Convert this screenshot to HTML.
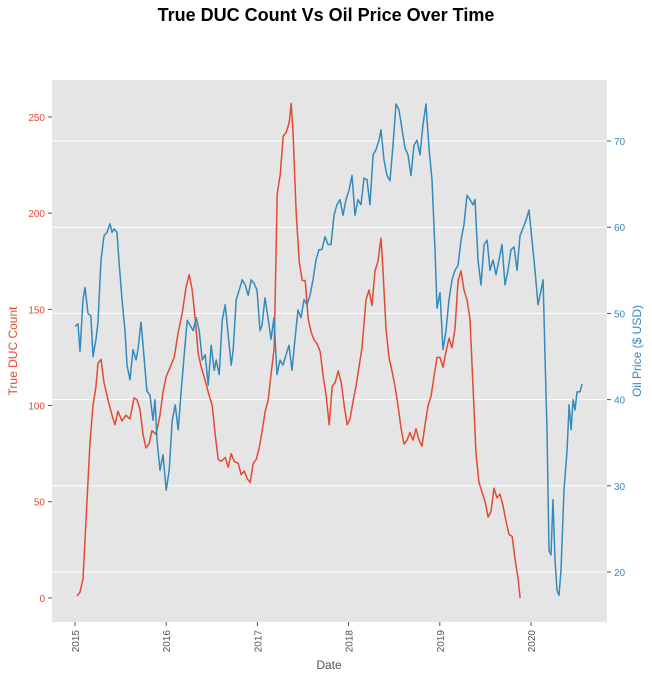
<!DOCTYPE html>
<html><head><meta charset="utf-8"><style>
body{margin:0;background:#fff;}
svg{display:block;font-family:"Liberation Sans",sans-serif;}
</style></head><body>
<svg id="c" width="652" height="679"></svg>
<script>
const ducDates=[2015.022,2015.055,2015.088,2015.121,2015.164,2015.197,2015.230,2015.252,2015.285,2015.318,2015.362,2015.406,2015.439,2015.471,2015.515,2015.559,2015.603,2015.647,2015.680,2015.713,2015.746,2015.779,2015.811,2015.844,2015.888,2015.932,2015.965,2016.0,2016.044,2016.088,2016.132,2016.175,2016.219,2016.252,2016.285,2016.318,2016.351,2016.384,2016.428,2016.461,2016.504,2016.537,2016.570,2016.603,2016.647,2016.680,2016.713,2016.746,2016.789,2016.822,2016.855,2016.888,2016.921,2016.954,2016.987,2017.020,2017.053,2017.086,2017.118,2017.151,2017.184,2017.217,2017.250,2017.283,2017.316,2017.349,2017.371,2017.393,2017.425,2017.458,2017.491,2017.524,2017.557,2017.590,2017.623,2017.656,2017.689,2017.721,2017.754,2017.787,2017.820,2017.853,2017.886,2017.919,2017.952,2017.985,2018.015,2018.048,2018.081,2018.114,2018.147,2018.191,2018.224,2018.257,2018.289,2018.322,2018.355,2018.377,2018.410,2018.443,2018.476,2018.509,2018.542,2018.575,2018.607,2018.640,2018.673,2018.706,2018.739,2018.772,2018.805,2018.838,2018.871,2018.904,2018.936,2018.969,2019.002,2019.035,2019.068,2019.101,2019.134,2019.167,2019.200,2019.232,2019.265,2019.298,2019.331,2019.364,2019.397,2019.430,2019.463,2019.496,2019.529,2019.561,2019.594,2019.627,2019.660,2019.693,2019.726,2019.759,2019.792,2019.825,2019.858,2019.880];
const ducValues=[1,3,10,40,80,100,110,122,124,112,103,95,90,97,92,95,93,104,103,98,85,78,80,87,85,95,107,115,120,125,138,148,162,168,160,145,127,120,113,107,100,85,72,71,73,68,75,71,70,64,66,62,60,70,72,78,87,97,103,117,130,210,220,240,242,247,257,240,200,175,165,165,145,138,134,132,128,115,105,90,110,112,118,112,100,90,93,102,110,120,130,155,160,152,170,175,187,170,140,125,118,110,100,88,80,82,86,82,88,82,79,90,100,105,115,125,125,120,128,135,130,140,165,170,160,155,145,110,75,60,55,50,42,45,57,52,54,48,40,33,32,20,10,0];
const oilDates=[2015.000,2015.033,2015.055,2015.088,2015.110,2015.143,2015.175,2015.197,2015.230,2015.252,2015.285,2015.318,2015.351,2015.384,2015.406,2015.428,2015.461,2015.482,2015.515,2015.548,2015.570,2015.603,2015.636,2015.669,2015.691,2015.724,2015.757,2015.789,2015.822,2015.855,2015.877,2015.899,2015.932,2015.965,2016.0,2016.033,2016.066,2016.099,2016.132,2016.164,2016.197,2016.230,2016.263,2016.296,2016.329,2016.362,2016.395,2016.428,2016.461,2016.493,2016.526,2016.548,2016.581,2016.614,2016.647,2016.680,2016.713,2016.735,2016.768,2016.801,2016.833,2016.866,2016.899,2016.932,2016.963,2016.996,2017.029,2017.050,2017.083,2017.116,2017.149,2017.182,2017.215,2017.248,2017.281,2017.314,2017.346,2017.379,2017.412,2017.445,2017.478,2017.511,2017.544,2017.577,2017.610,2017.643,2017.675,2017.708,2017.741,2017.774,2017.807,2017.840,2017.873,2017.906,2017.939,2017.971,2018.004,2018.037,2018.070,2018.103,2018.136,2018.169,2018.202,2018.235,2018.268,2018.300,2018.333,2018.355,2018.388,2018.421,2018.454,2018.487,2018.520,2018.553,2018.586,2018.618,2018.651,2018.684,2018.717,2018.750,2018.783,2018.816,2018.849,2018.882,2018.914,2018.947,2018.969,2019.002,2019.035,2019.068,2019.101,2019.134,2019.167,2019.200,2019.232,2019.265,2019.298,2019.331,2019.364,2019.386,2019.419,2019.452,2019.485,2019.518,2019.550,2019.583,2019.616,2019.649,2019.682,2019.715,2019.748,2019.781,2019.814,2019.846,2019.879,2019.912,2019.945,2019.978,2020.011,2020.044,2020.077,2020.110,2020.132,2020.154,2020.175,2020.197,2020.219,2020.241,2020.263,2020.285,2020.307,2020.329,2020.362,2020.395,2020.417,2020.439,2020.461,2020.482,2020.504,2020.537,2020.559];
const oilValues=[48.5,48.8,45.6,51.6,53,50,49.7,45,47,49,56.2,59,59.4,60.4,59.4,59.8,59.4,56.2,51.6,48,44,42.3,45.8,44.6,45.8,49,45,41,40.5,37.6,40,35.3,31.8,33.6,29.5,31.8,37.6,39.4,36.5,41,45.2,49.2,48.6,48,49.5,48,44.6,45.2,41.7,46.3,43.4,44.6,42.9,49.2,51,47.5,44,45.8,51.6,52.7,53.9,53.3,52.1,53.9,53.5,52.7,48,48.6,51.8,49.5,47,49.5,42.9,44.6,44,45.2,46.3,43.4,47,50.4,49.5,51.6,51,52.1,53.9,56.2,57.4,57.4,58.9,58,58,61.4,62.6,63.2,61.4,63.2,64.3,66,61.4,63.2,62.6,65.7,65.5,62.6,68.4,69,70.1,71.3,67.8,66,65.4,69.5,74.3,73.6,71.3,69.2,68.4,66,69.5,70.1,68.4,71.9,74.3,69,65.5,57.4,50.6,52.4,45.8,48,51.6,53.9,55,55.6,58.5,60.3,63.7,63.2,62.6,63.2,56.2,53.3,58,58.5,55,56.2,54.5,56.2,58,53.3,55,57.4,57.7,55,59,59.9,60.8,62,58.5,55,51,52.7,53.9,44.6,36.5,22.5,22,28.4,21.4,17.9,17.3,20.2,29.5,34.2,39.4,36.5,40,38.8,40.9,40.9,41.8];
const xTicks=[2015,2016,2017,2018,2019,2020];
const leftTicks=[0,50,100,150,200,250];
const rightTicks=[20,30,40,50,60,70];

const L=52,R=607,T=80,B=622;
const X=v=>L+(v-2014.748)/(2020.833-2014.748)*(R-L);
const YL=v=>B-(v-(-12.5))/(269.2-(-12.5))*(B-T);
const YR=v=>B-(v-14.2)/(77.08-14.2)*(B-T);
const svg=document.getElementById('c');const NS='http://www.w3.org/2000/svg';
function mk(t,a,p){const e=document.createElementNS(NS,t);for(const k in a)e.setAttribute(k,a[k]);(p||svg).appendChild(e);return e;}
let e=mk('text',{x:326,y:21,'text-anchor':'middle','font-size':18,'font-weight':'bold',fill:'#000'});e.textContent='True DUC Count Vs Oil Price Over Time';

e=mk('rect',{x:L,y:T,width:R-L,height:B-T,fill:'#E5E5E5'});

rightTicks.forEach(v=>{const y=YR(v);
 e=mk('line',{x1:L,x2:R,y1:y,y2:y,stroke:'#fff','stroke-width':1});
 
 mk('line',{x1:R,x2:R+4,y1:y,y2:y,stroke:'#555'});
 e=mk('text',{x:R+7,y:y+4,'font-size':10,fill:'#348ABD'});e.textContent=v;
 });
leftTicks.forEach(v=>{const y=YL(v);
 mk('line',{x1:L-4,x2:L,y1:y,y2:y,stroke:'#555'});
 e=mk('text',{x:L-7,y:y+4,'font-size':10,fill:'#E24A33','text-anchor':'end'});e.textContent=v;
 });
xTicks.forEach(v=>{const x=X(v);
 mk('line',{x1:x,x2:x,y1:B,y2:B+4,stroke:'#555'});
 e=mk('text',{x:x+4,y:B+8,'font-size':10,fill:'#555','text-anchor':'end',transform:`rotate(-90 ${x+4} ${B+8})`});e.textContent=v;
 });
e=mk('path',{d:ducDates.map((d,i)=>(i?'L':'M')+X(d).toFixed(1)+','+YL(ducValues[i]).toFixed(1)).join(''),fill:'none',stroke:'#E24A33','stroke-width':1.5,'stroke-linejoin':'round'});

e=mk('path',{d:oilDates.map((d,i)=>(i?'L':'M')+X(d).toFixed(1)+','+YR(oilValues[i]).toFixed(1)).join(''),fill:'none',stroke:'#348ABD','stroke-width':1.5,'stroke-linejoin':'round'});

e=mk('text',{x:329,y:669,'text-anchor':'middle','font-size':12,fill:'#555'});e.textContent='Date';

e=mk('text',{x:17,y:351,'text-anchor':'middle','font-size':12,fill:'#E24A33',transform:'rotate(-90 17 351)'});e.textContent='True DUC Count';

e=mk('text',{x:641,y:351,'text-anchor':'middle','font-size':12,fill:'#348ABD',transform:'rotate(-90 641 351)'});e.textContent='Oil Price ($ USD)';

</script>
</body></html>
